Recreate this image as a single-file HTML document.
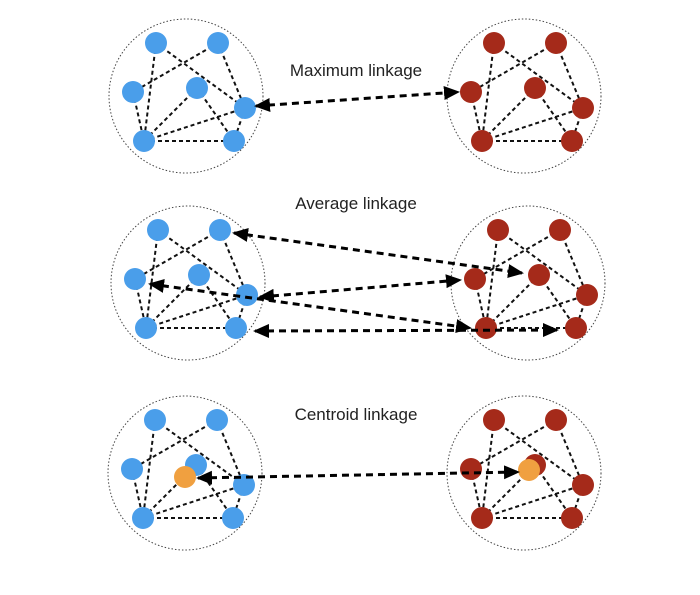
<!DOCTYPE html>
<html><head><style>html,body{margin:0;background:#fff}</style></head><body>
<svg width="700" height="590" viewBox="0 0 700 590" xmlns="http://www.w3.org/2000/svg">
<defs>
<marker id="ah" markerWidth="16" markerHeight="14" refX="14" refY="7" orient="auto-start-reverse" markerUnits="userSpaceOnUse" viewBox="0 0 16 14">
<path d="M0,0 L16,7 L0,14 z" fill="#000"/>
</marker>
<g id="cl">
<circle cx="186" cy="96" r="77" fill="none" stroke="#444" stroke-width="1" stroke-dasharray="1.5 2"/>
<g stroke="#111" stroke-width="2" stroke-dasharray="4 3" fill="none">
<line x1="156" y1="43" x2="245" y2="108"/>
<line x1="218" y1="43" x2="133" y2="92"/>
<line x1="156" y1="43" x2="144" y2="141"/>
<line x1="218" y1="43" x2="245" y2="108"/>
<line x1="133" y1="92" x2="144" y2="141"/>
<line x1="197" y1="88" x2="144" y2="141"/>
<line x1="197" y1="88" x2="234" y2="141"/>
<line x1="144" y1="141" x2="245" y2="108"/>
<line x1="144" y1="141" x2="234" y2="141"/>
<line x1="245" y1="108" x2="234" y2="141"/>
</g>
<g fill="currentColor">
<circle cx="156" cy="43" r="11"/><circle cx="218" cy="43" r="11"/>
<circle cx="133" cy="92" r="11"/><circle cx="197" cy="88" r="11"/>
<circle cx="245" cy="108" r="11"/><circle cx="144" cy="141" r="11"/>
<circle cx="234" cy="141" r="11"/>
</g>
</g>
</defs>
<use href="#cl" style="color:#4a9eea"/>
<use href="#cl" transform="translate(338,0)" style="color:#a52a1a"/>
<use href="#cl" transform="translate(2,187)" style="color:#4a9eea"/>
<use href="#cl" transform="translate(342,187)" style="color:#a52a1a"/>
<use href="#cl" transform="translate(-1,377)" style="color:#4a9eea"/>
<use href="#cl" transform="translate(338,377)" style="color:#a52a1a"/>
<circle cx="185" cy="477" r="11" fill="#f0a040"/>
<circle cx="529" cy="470" r="11" fill="#f0a040"/>
<g stroke="#000" stroke-width="3" stroke-dasharray="7 5" fill="none" marker-start="url(#ah)" marker-end="url(#ah)">
<line x1="256" y1="106" x2="458" y2="92"/>
<line x1="234" y1="233" x2="522" y2="273"/>
<line x1="150" y1="284" x2="470" y2="328"/>
<line x1="260" y1="297" x2="460" y2="280"/>
<line x1="255" y1="331" x2="557" y2="330"/>
<line x1="198" y1="478" x2="518" y2="472"/>
</g>
<g font-family="Liberation Sans, sans-serif" font-size="17" fill="#222" text-anchor="middle">
<text x="356" y="76">Maximum linkage</text>
<text x="356" y="209">Average linkage</text>
<text x="356" y="420">Centroid linkage</text>
</g>
</svg>
</body></html>
